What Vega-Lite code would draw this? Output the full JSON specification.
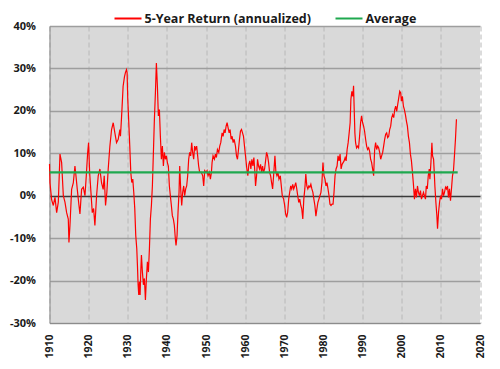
{
  "$schema": "https://vega.github.io/schema/vega-lite/v6.json",
  "width": 430.5,
  "height": 297,
  "autosize": {"type": "none"},
  "padding": {"left": 49.5, "top": 26, "right": 20, "bottom": 46},
  "background": "white",
  "config": {
    "view": {"fill": "#d9d9d9", "stroke": null},
    "font": "Open Sans",
    "legend": {
      "orient": "none",
      "legendX": 64,
      "legendY": -22,
      "direction": "horizontal",
      "symbolType": "stroke",
      "symbolSize": 729,
      "symbolStrokeWidth": 2,
      "labelFont": "Open Sans",
      "labelFontSize": 12.5,
      "labelFontWeight": "bold",
      "labelColor": "#1a1a1a",
      "labelLimit": 400,
      "labelOffset": 2,
      "columnPadding": 20,
      "titleFontSize": 0
    }
  },
  "datasets": {
    "ret": [
      {"year":1910.0,"value":7.5},{"year":1910.13,"value":3},{"year":1910.55,"value":-1},{"year":1910.98,"value":-2.3},{"year":1911.4,"value":-0.4},{"year":1911.83,"value":-4},{"year":1912.25,"value":-1.5},{"year":1912.68,"value":9.8},{"year":1913.1,"value":7.8},{"year":1913.53,"value":0},{"year":1913.95,"value":-1.5},{"year":1914.38,"value":-4},{"year":1914.8,"value":-5.5},{"year":1914.97,"value":-11},{"year":1915.23,"value":-7},{"year":1915.65,"value":1.5},{"year":1916.08,"value":3},{"year":1916.5,"value":7},{"year":1916.76,"value":4.7},{"year":1917.1,"value":1.5},{"year":1917.53,"value":-2.3},{"year":1917.78,"value":-4.3},{"year":1918.2,"value":1.5},{"year":1918.63,"value":2},{"year":1919.06,"value":0},{"year":1919.4,"value":4.7},{"year":1919.74,"value":10},{"year":1919.99,"value":12.5},{"year":1920.25,"value":5.5},{"year":1920.59,"value":0.8},{"year":1920.93,"value":-4},{"year":1921.27,"value":-3},{"year":1921.6,"value":-7},{"year":1922.03,"value":0},{"year":1922.45,"value":4.7},{"year":1922.88,"value":6.3},{"year":1923.3,"value":3},{"year":1923.72,"value":1.5},{"year":1923.98,"value":4.7},{"year":1924.32,"value":-2.3},{"year":1924.66,"value":0.8},{"year":1925.0,"value":6.3},{"year":1925.43,"value":11.7},{"year":1925.86,"value":15.6},{"year":1926.28,"value":17.2},{"year":1926.7,"value":14.8},{"year":1927.13,"value":12.5},{"year":1927.56,"value":13.3},{"year":1927.98,"value":15.6},
      {"year":1928.13,"value":14},{"year":1928.38,"value":18},{"year":1928.55,"value":21},{"year":1928.81,"value":25.8},{"year":1929.15,"value":28},{"year":1929.4,"value":29},{"year":1929.66,"value":29.7},{"year":1929.83,"value":29},{"year":1930.0,"value":22.7},{"year":1930.26,"value":17.2},{"year":1930.51,"value":11.7},{"year":1930.77,"value":5.5},{"year":1931.02,"value":3.1},{"year":1931.28,"value":3.9},{"year":1931.53,"value":0.8},{"year":1931.79,"value":-3.1},{"year":1932.04,"value":-9.4},{"year":1932.3,"value":-12.5},{"year":1932.47,"value":-16.4},{"year":1932.64,"value":-21},{"year":1932.81,"value":-23.4},{"year":1932.98,"value":-20.3},{"year":1933.15,"value":-23.4},{"year":1933.32,"value":-18},{"year":1933.49,"value":-14},{"year":1933.74,"value":-18},{"year":1934.0,"value":-21},{"year":1934.25,"value":-19.5},{"year":1934.51,"value":-24.6},{"year":1934.76,"value":-19.5},{"year":1935.02,"value":-15.6},{"year":1935.27,"value":-18},{"year":1935.53,"value":-12.5},{"year":1935.78,"value":-5.5},{"year":1936.04,"value":-2.3},{"year":1936.29,"value":2.3},{"year":1936.55,"value":10.2},{"year":1936.8,"value":18},{"year":1937.06,"value":24.2},{"year":1937.31,"value":31.3},{"year":1937.57,"value":25.8},{"year":1937.82,"value":18.8},{"year":1938.08,"value":20.3},{"year":1938.33,"value":14},{"year":1938.59,"value":8.6},{"year":1938.84,"value":11.7},{"year":1939.1,"value":7},{"year":1939.35,"value":10.2},{"year":1939.61,"value":8.6},{"year":1939.86,"value":9.4},{"year":1940.12,"value":7.8},{"year":1940.37,"value":7},{"year":1940.63,"value":2.3},{"year":1940.88,"value":0},{"year":1941.14,"value":-2.3},{"year":1941.39,"value":-4.7},{"year":1941.65,"value":-5.5},{"year":1941.9,"value":-7},{"year":1942.16,"value":-10.2},{"year":1942.33,"value":-11.7},{"year":1942.59,"value":-9.4},{"year":1942.84,"value":-3.9},{"year":1943.1,"value":0.8},{"year":1943.27,"value":7},{"year":1943.52,"value":1.6},{"year":1943.78,"value":-2.3},{"year":1944.03,"value":0.8},{"year":1944.29,"value":2.3},{"year":1944.54,"value":0},{"year":1944.8,"value":1.6},{"year":1945.05,"value":2.3},{"year":1945.31,"value":4.7},{"year":1945.56,"value":8.6},{"year":1945.82,"value":10.2},{"year":1946.07,"value":9.4},{"year":1946.33,"value":12.5},{"year":1946.58,"value":10.2},{"year":1946.84,"value":8.6},{"year":1947.09,"value":11.7},{"year":1947.35,"value":10.9},{"year":1947.6,"value":11.7},{"year":1947.86,"value":9.4},{"year":1948.11,"value":7},{"year":1948.37,"value":5.5},
      {"year":1948.8,"value":5.5},{"year":1949.15,"value":4.7},{"year":1949.4,"value":2.3},{"year":1949.66,"value":5.9},{"year":1950.0,"value":5.5},{"year":1950.26,"value":5.9},{"year":1950.51,"value":4.7},{"year":1950.85,"value":5.5},{"year":1951.11,"value":3.9},{"year":1951.37,"value":5.5},{"year":1951.54,"value":7.8},{"year":1951.79,"value":9.4},{"year":1952.14,"value":8.6},{"year":1952.39,"value":9.8},{"year":1952.65,"value":9},{"year":1952.91,"value":10.9},{"year":1953.25,"value":10.2},{"year":1953.5,"value":11.7},{"year":1953.76,"value":12.5},{"year":1954.1,"value":14.8},{"year":1954.36,"value":14},{"year":1954.62,"value":15.6},{"year":1954.87,"value":14.8},{"year":1955.13,"value":16.4},{"year":1955.38,"value":17.2},{"year":1955.64,"value":16},{"year":1955.9,"value":14.8},{"year":1956.15,"value":15.6},{"year":1956.41,"value":13.3},{"year":1956.67,"value":14},{"year":1956.92,"value":12.5},{"year":1957.18,"value":13.3},{"year":1957.52,"value":11.7},{"year":1957.78,"value":9.4},{"year":1958.03,"value":8.6},{"year":1958.29,"value":10.9},{"year":1958.55,"value":13.3},{"year":1958.8,"value":15.2},{"year":1959.06,"value":15.6},{"year":1959.32,"value":14.8},{"year":1959.57,"value":14},{"year":1959.91,"value":10.9},{"year":1960.17,"value":8.6},{"year":1960.43,"value":6.3},{"year":1960.68,"value":4.7},{"year":1960.94,"value":7.4},{"year":1961.2,"value":8.2},{"year":1961.45,"value":6.3},{"year":1961.71,"value":8.6},{"year":1961.97,"value":7},{"year":1962.22,"value":9},{"year":1962.48,"value":5.5},{"year":1962.65,"value":2.3},{"year":1962.91,"value":4.7},{"year":1963.16,"value":8.6},{"year":1963.42,"value":7},{"year":1963.68,"value":6.3},{"year":1963.93,"value":7.4},{"year":1964.19,"value":5.5},{"year":1964.44,"value":7},{"year":1964.7,"value":5.5},{"year":1964.96,"value":6.3},{"year":1965.21,"value":8.2},{"year":1965.47,"value":10.2},{"year":1965.73,"value":9.4},{"year":1965.98,"value":7.8},{"year":1966.24,"value":5.5},{"year":1966.5,"value":4.7},{"year":1966.75,"value":3.1},{"year":1967.01,"value":1.6},{"year":1967.26,"value":4.7},{"year":1967.6,"value":9.4},
      {"year":1967.85,"value":5.5},{"year":1968.11,"value":4.7},{"year":1968.37,"value":5.5},{"year":1968.63,"value":3.9},{"year":1968.97,"value":4.7},{"year":1969.23,"value":2.3},{"year":1969.48,"value":0},{"year":1969.83,"value":-0.8},{"year":1970.09,"value":-2.3},{"year":1970.34,"value":-4.3},{"year":1970.6,"value":-5.1},{"year":1970.86,"value":-3.9},{"year":1971.12,"value":-0.8},{"year":1971.37,"value":0.8},{"year":1971.63,"value":2.3},{"year":1971.89,"value":1.6},{"year":1972.15,"value":2.7},{"year":1972.4,"value":1.6},{"year":1972.66,"value":2.3},{"year":1972.92,"value":3.1},{"year":1973.18,"value":1.6},{"year":1973.43,"value":0},{"year":1973.69,"value":-1.6},{"year":1973.95,"value":-0.8},{"year":1974.21,"value":-2.3},{"year":1974.46,"value":-3.1},{"year":1974.72,"value":-5.5},{"year":1974.98,"value":-0.8},{"year":1975.24,"value":1.6},{"year":1975.49,"value":5.1},{"year":1975.75,"value":2.3},{"year":1976.01,"value":1.6},{"year":1976.27,"value":2.3},{"year":1976.52,"value":2},{"year":1976.78,"value":2.7},{"year":1977.04,"value":1.6},{"year":1977.3,"value":0.8},{"year":1977.55,"value":-0.8},{"year":1977.81,"value":-2.3},{"year":1978.07,"value":-4.8},{"year":1978.33,"value":-3.1},{"year":1978.58,"value":-1.6},{"year":1978.84,"value":-0.8},{"year":1979.1,"value":0},{"year":1979.36,"value":0.8},{"year":1979.61,"value":3.1},{"year":1979.87,"value":7.8},{"year":1980.13,"value":4.7},{"year":1980.39,"value":3.9},{"year":1980.64,"value":2.3},{"year":1980.9,"value":3.1},{"year":1981.16,"value":1.6},{"year":1981.42,"value":0},{"year":1981.67,"value":-2},{"year":1981.93,"value":-2.3},{"year":1982.19,"value":-2},{"year":1982.45,"value":-2},{"year":1982.7,"value":0.8},{"year":1982.96,"value":4.7},{"year":1983.22,"value":6.3},{"year":1983.48,"value":7},{"year":1983.73,"value":9.4},{"year":1983.99,"value":8.2},{"year":1984.25,"value":9.8},{"year":1984.51,"value":6.3},{"year":1984.76,"value":7.4},{"year":1985.02,"value":7.8},{"year":1985.28,"value":8.2},{"year":1985.54,"value":9},{"year":1985.79,"value":8.2},{"year":1986.05,"value":10.9},{"year":1986.31,"value":12.5},{"year":1986.57,"value":14.8},{"year":1986.82,"value":17.2},
      {"year":1987.01,"value":22.7},{"year":1987.26,"value":24.6},{"year":1987.52,"value":23.4},{"year":1987.69,"value":25.9},{"year":1987.86,"value":20.3},{"year":1988.03,"value":14.8},{"year":1988.21,"value":12.5},{"year":1988.46,"value":11.3},{"year":1988.72,"value":11.7},{"year":1988.97,"value":11.3},{"year":1989.23,"value":14},{"year":1989.49,"value":17.2},{"year":1989.74,"value":18.8},{"year":1990.0,"value":17.2},{"year":1990.26,"value":16.4},{"year":1990.51,"value":15.2},{"year":1990.77,"value":13.3},{"year":1991.03,"value":11.7},{"year":1991.28,"value":10.9},{"year":1991.54,"value":11.3},{"year":1991.79,"value":10.5},{"year":1992.05,"value":8.6},{"year":1992.31,"value":7.8},{"year":1992.56,"value":6.3},{"year":1992.82,"value":4.7},{"year":1993.08,"value":10.9},{"year":1993.33,"value":12.5},{"year":1993.59,"value":10.9},{"year":1993.85,"value":11.7},{"year":1994.1,"value":11.3},{"year":1994.36,"value":10.2},{"year":1994.62,"value":8.6},{"year":1994.87,"value":9.4},{"year":1995.13,"value":10.2},{"year":1995.38,"value":11.7},{"year":1995.64,"value":13.3},{"year":1995.9,"value":14.5},{"year":1996.15,"value":14.8},{"year":1996.41,"value":13.7},{"year":1996.67,"value":14},{"year":1996.92,"value":15.6},{"year":1997.18,"value":16.4},{"year":1997.44,"value":18.4},{"year":1997.69,"value":19.1},{"year":1997.95,"value":18.4},{"year":1998.21,"value":20.3},{"year":1998.46,"value":21.1},{"year":1998.72,"value":19.9},{"year":1998.97,"value":21.5},{"year":1999.23,"value":23},{"year":1999.49,"value":24.6},{"year":1999.74,"value":24.2},{"year":1999.91,"value":22.3},{"year":2000.17,"value":23.4},{"year":2000.43,"value":21.1},{"year":2000.68,"value":20.3},{"year":2000.94,"value":19.1},{"year":2001.2,"value":17.6},{"year":2001.45,"value":16.4},{"year":2001.71,"value":14},{"year":2001.97,"value":12.5},{"year":2002.22,"value":9.8},{"year":2002.48,"value":8.2},{"year":2002.74,"value":5.5},{"year":2002.99,"value":2.7},{"year":2003.25,"value":-0.8},{"year":2003.5,"value":1.6},{"year":2003.76,"value":-0.4},{"year":2004.02,"value":2.3},{"year":2004.27,"value":0.8},{"year":2004.53,"value":0},{"year":2004.79,"value":1.2},{"year":2005.04,"value":-0.8},{"year":2005.3,"value":0},{"year":2005.56,"value":0.8},{"year":2005.81,"value":0},{"year":2006.07,"value":-0.8},
      {"year":2006.27,"value":2.3},{"year":2006.53,"value":1.6},{"year":2006.78,"value":4.7},{"year":2007.03,"value":6.3},{"year":2007.2,"value":3.9},{"year":2007.46,"value":7.8},{"year":2007.71,"value":12.5},{"year":2007.88,"value":9.4},{"year":2008.14,"value":8.6},{"year":2008.31,"value":5.5},{"year":2008.47,"value":2.3},{"year":2008.73,"value":-1.6},{"year":2008.98,"value":-4.7},{"year":2009.15,"value":-7.8},{"year":2009.41,"value":-3.9},{"year":2009.66,"value":-1.6},{"year":2009.92,"value":0},{"year":2010.17,"value":-0.8},{"year":2010.42,"value":1.6},{"year":2010.68,"value":0},{"year":2010.93,"value":0.8},{"year":2011.19,"value":2},{"year":2011.44,"value":1.6},{"year":2011.69,"value":2.3},{"year":2011.95,"value":-0.4},{"year":2012.2,"value":1.6},{"year":2012.46,"value":-1.2},{"year":2012.71,"value":1.6},{"year":2012.97,"value":4.7},{"year":2013.22,"value":5.9},{"year":2013.47,"value":9.4},{"year":2013.73,"value":13.3},{"year":2013.98,"value":18}
    ],
    "avg": [
      {"year":1910.0,"value":5.5},{"year":2014.3,"value":5.5}
    ]
  },
  "encoding": {
    "x": {
      "field": "year",
      "type": "quantitative",
      "scale": {"domain": [1910, 2020], "nice": false, "zero": false},
      "axis": {
        "values": [1910, 1920, 1930, 1940, 1950, 1960, 1970, 1980, 1990, 2000, 2010, 2020],
        "format": "d",
        "labelAngle": -90,
        "labelFont": "Open Sans",
        "labelFontSize": 10.5,
        "labelFontWeight": "bold",
        "labelColor": "#1a1a1a",
        "labelPadding": 11,
        "ticks": false,
        "grid": true,
        "gridColor": "#b8b8b8",
        "gridDash": [5, 3],
        "gridWidth": 1,
        "domainColor": "#8c8c8c",
        "domainWidth": 1,
        "title": null
      }
    },
    "y": {
      "field": "value",
      "type": "quantitative",
      "scale": {"domain": [-30, 40], "nice": false},
      "axis": {
        "values": [-30, -20, -10, 0, 10, 20, 30, 40],
        "labelExpr": "datum.value + '%'",
        "labelFont": "Open Sans",
        "labelFontSize": 11,
        "labelFontWeight": "bold",
        "labelColor": "#1a1a1a",
        "labelPadding": 14,
        "ticks": false,
        "grid": true,
        "gridColor": {"condition": {"test": "datum.value === 0", "value": "#3a3a3a"}, "value": "#9e9e9e"},
        "gridWidth": 1.3,
        "domainColor": "#8c8c8c",
        "domainWidth": 1,
        "title": null
      }
    }
  },
  "layer": [
    {
      "data": {"name": "ret"},
      "mark": {"type": "line", "strokeWidth": 1.2},
      "encoding": {
        "color": {
          "datum": "5-Year Return (annualized)",
          "scale": {"domain": ["5-Year Return (annualized)", "Average"], "range": ["#ff0000", "#1fa84f"]},
          "legend": {"title": null}
        }
      }
    },
    {
      "data": {"name": "avg"},
      "mark": {"type": "line", "strokeWidth": 2.4},
      "encoding": {
        "color": {"datum": "Average"}
      }
    }
  ]
}
